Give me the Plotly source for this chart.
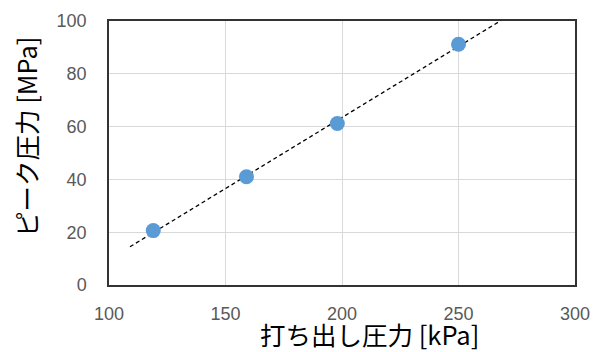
import numpy as np
import plotly.graph_objects as go

launch_pressure_kpa = [119, 159, 198, 250]
peak_pressure_mpa = [20.6, 41.0, 61.2, 91.2]
x_tickvals = [100, 150, 200, 250, 300]
y_tickvals = [0, 20, 40, 60, 80, 100]
trend_x_range = [109, 290]

slope, intercept = np.polyfit(launch_pressure_kpa, peak_pressure_mpa, 1)
tx = np.array(trend_x_range, dtype=float)
ty = slope * tx + intercept

fig = go.Figure()
fig.add_trace(go.Scatter(x=tx, y=ty, mode="lines",
                         line=dict(color="black", width=1.3, dash="4px,3px"),
                         hoverinfo="skip", showlegend=False))
fig.add_trace(go.Scatter(x=launch_pressure_kpa, y=peak_pressure_mpa, mode="markers",
                         marker=dict(color="#5B9BD5", size=15),
                         showlegend=False))

tickfont = dict(family="Liberation Sans, Arial, sans-serif", size=18, color="#595959")
fig.update_xaxes(range=[100, 300], tickvals=x_tickvals, showgrid=True, gridcolor="#d9d9d9",
                 gridwidth=1, zeroline=False, showline=True, linecolor="#333333", linewidth=1.5,
                 mirror=True, ticks="", ticklabelstandoff=12, tickfont=tickfont,
                 automargin=False)
fig.update_yaxes(range=[0, 100], tickvals=y_tickvals, showgrid=True, gridcolor="#d9d9d9",
                 gridwidth=1, zeroline=False, showline=True, linecolor="#333333", linewidth=1.5,
                 mirror=True, ticks="", ticklabelstandoff=17, tickfont=tickfont,
                 automargin=False)

titlefont = dict(family="Noto Sans CJK JP, sans-serif", size=25.5, color="black")
fig.add_annotation(text="打ち出し圧力 [kPa]", xref="paper", yref="paper",
                   x=(369 - 109) / 466, y=-(333 - 285) / 264, showarrow=False,
                   xanchor="center", yanchor="middle", font=titlefont)
fig.add_annotation(text="ピーク圧力 [MPa]", xref="paper", yref="paper",
                   x=-(109 - 25) / 466, y=(285 - 137) / 264, showarrow=False,
                   xanchor="center", yanchor="middle", textangle=-90, font=titlefont)

fig.update_layout(width=593, height=352, margin=dict(l=109, r=18, t=21, b=67),
                  plot_bgcolor="white", paper_bgcolor="white")
fig.write_html("out.html", config={"displayModeBar": False})

with open("out.html", "r", encoding="utf-8") as f:
    html = f.read()
html = html.replace("<body>", '<body style="margin:0;overflow:hidden">', 1)
with open("out.html", "w", encoding="utf-8") as f:
    f.write(html)
